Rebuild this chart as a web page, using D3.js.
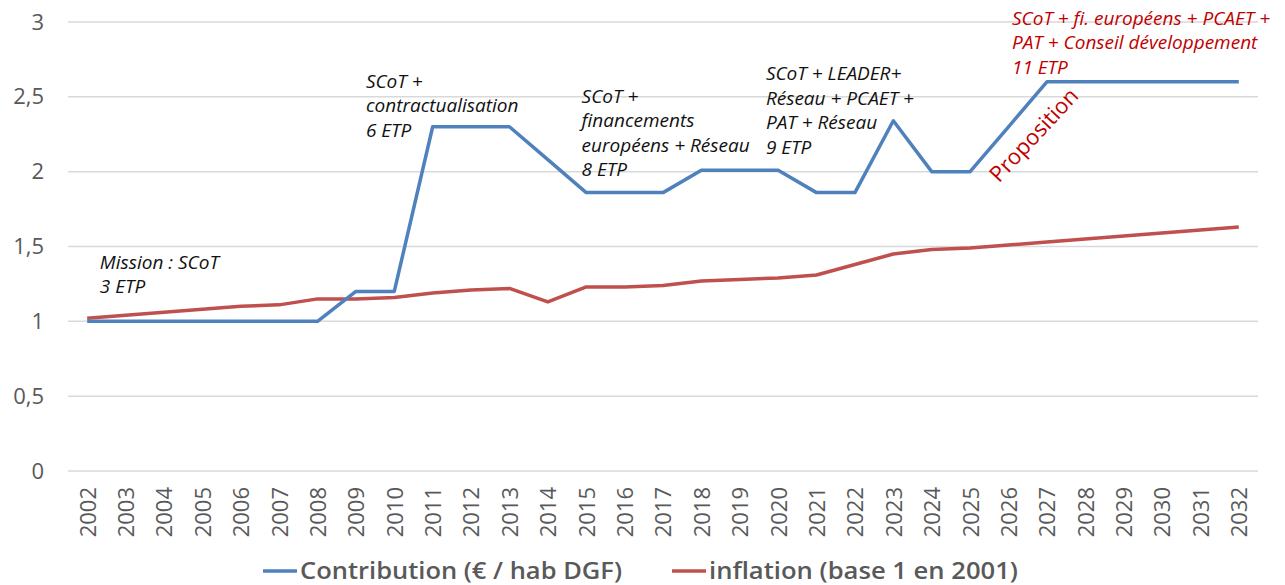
<!DOCTYPE html>
<html lang="fr">
<head>
  <meta charset="UTF-8">
  <title>Contribution et inflation</title>
  <script src="https://d3js.org/d3.v7.min.js"></script>
  <style>
    body { margin: 0; background: #fff; }
    text { font-family: "Open Sans", sans-serif; }
  </style>
</head>
<body>
  <svg width="1285" height="585"></svg>

  <script>
    // data
    const years = d3.range(2002, 2033);
    const contribution = [1, 1, 1, 1, 1, 1, 1, 1.2, 1.2, 2.3, 2.3, 2.3, 2.08, 1.86, 1.86, 1.86,
      2.01, 2.01, 2.01, 1.86, 1.86, 2.34, 2, 2, 2.3, 2.6, 2.6, 2.6, 2.6, 2.6, 2.6];
    const inflation = [1.02, 1.04, 1.06, 1.08, 1.1, 1.11, 1.15, 1.15, 1.16, 1.19, 1.21, 1.22, 1.13,
      1.23, 1.23, 1.24, 1.27, 1.28, 1.29, 1.31, 1.38, 1.45, 1.48, 1.49, 1.51, 1.53, 1.55, 1.57,
      1.59, 1.61, 1.63];
    const yTicks = [0, 0.5, 1, 1.5, 2, 2.5, 3];
    const seriesNames = ["Contribution (€ / hab DGF)", "inflation (base 1 en 2001)"];
    const notes = [
      { year: 2002.33, value: 1.35, lines: ["Mission : SCoT", "3 ETP"], red: false },
      { year: 2009.26, value: 2.56, lines: ["SCoT +", "contractualisation", "6 ETP"], red: false },
      { year: 2014.88, value: 2.46, lines: ["SCoT +", "financements", "européens + Réseau", "8 ETP"], red: false },
      { year: 2019.68, value: 2.61, lines: ["SCoT + LEADER+", "Réseau + PCAET +", "PAT + Réseau", "9 ETP"], red: false },
      { year: 2026.09, value: 2.98, lines: ["SCoT + fi. européens + PCAET +", "PAT + Conseil développement", "11 ETP"], red: true }
    ];

    const svg = d3.select("svg");
    const plotLeft = 68, plotRight = 1258, plotTop = 22, plotBottom = 471;

    const x = d3.scalePoint().domain(years).range([plotLeft, plotRight]).padding(0.5);
    const step = x.step();
    const xPos = v => x(2002) + (v - 2002) * step;
    const y = d3.scaleLinear().domain([0, 3]).range([plotBottom, plotTop]);
    const fr = d3.formatLocale({ decimal: ",", thousands: " ", grouping: [3], currency: ["", " €"] });

    // gridlines
    svg.append("g")
      .selectAll("line")
      .data(yTicks)
      .join("line")
      .attr("x1", plotLeft).attr("x2", plotRight)
      .attr("y1", d => y(d)).attr("y2", d => y(d))
      .attr("stroke", "#d9d9d9")
      .attr("stroke-width", 1.5);

    // y axis
    const yAxis = svg.append("g")
      .attr("transform", "translate(49,0)")
      .call(d3.axisLeft(y).tickValues(yTicks).tickFormat(fr.format("~g")).tickSize(0).tickPadding(5));
    yAxis.select(".domain").remove();
    yAxis.selectAll("text")
      .style("font-family", "Open Sans, sans-serif")
      .style("font-size", "22px")
      .attr("fill", "#595959");

    // x axis
    const xAxis = svg.append("g")
      .attr("transform", `translate(0,${plotBottom})`)
      .call(d3.axisBottom(x).tickSize(0));
    xAxis.select(".domain").remove();
    xAxis.selectAll("text")
      .style("font-family", "Open Sans, sans-serif")
      .style("font-size", "22px")
      .attr("fill", "#595959")
      .attr("transform", "rotate(-90)")
      .attr("text-anchor", "end")
      .attr("x", -16)
      .attr("y", 0)
      .attr("dy", "0.36em");

    // lines
    const line = d3.line().x((d, i) => x(years[i])).y(d => y(d));
    svg.append("path")
      .datum(inflation)
      .attr("d", line)
      .attr("fill", "none")
      .attr("stroke", "#C0504D")
      .attr("stroke-width", 3.5)
      .attr("stroke-linejoin", "round");
    svg.append("path")
      .datum(contribution)
      .attr("d", line)
      .attr("fill", "none")
      .attr("stroke", "#4F81BD")
      .attr("stroke-width", 3.5)
      .attr("stroke-linejoin", "round");

    // annotations
    notes.forEach(n => {
      const t = svg.append("text")
        .attr("x", xPos(n.year))
        .attr("y", y(n.value))
        .attr("fill", n.red ? "#C00000" : "#111")
        .style("font-size", "19px")
        .style("font-style", "italic");
      n.lines.forEach((l, i) => {
        t.append("tspan")
          .attr("x", xPos(n.year))
          .attr("dy", i === 0 ? 0 : 24.5)
          .text(l);
      });
    });

    svg.append("text")
      .attr("transform", `translate(${xPos(2026.66)},${y(2.245)}) rotate(-47)`)
      .attr("text-anchor", "middle")
      .attr("dy", "0.35em")
      .attr("fill", "#C00000")
      .style("font-size", "22px")
      .text("Proposition");

    // legend
    const legend = [
      { name: seriesNames[0], color: "#4F81BD", x0: 263, len: 322 },
      { name: seriesNames[1], color: "#C0504D", x0: 672, len: 309 }
    ];
    const lg = svg.append("g").attr("transform", "translate(0,571)");
    lg.selectAll("line")
      .data(legend)
      .join("line")
      .attr("x1", d => d.x0).attr("x2", d => d.x0 + 34)
      .attr("stroke", d => d.color)
      .attr("stroke-width", 3.5);
    lg.selectAll("text")
      .data(legend)
      .join("text")
      .attr("x", d => d.x0 + 37)
      .attr("dy", "0.35em")
      .attr("textLength", d => d.len)
      .attr("lengthAdjust", "spacingAndGlyphs")
      .attr("fill", "#595959")
      .style("font-size", "23px")
      .style("font-weight", "600")
      .text(d => d.name);
  </script>
</body>
</html>
